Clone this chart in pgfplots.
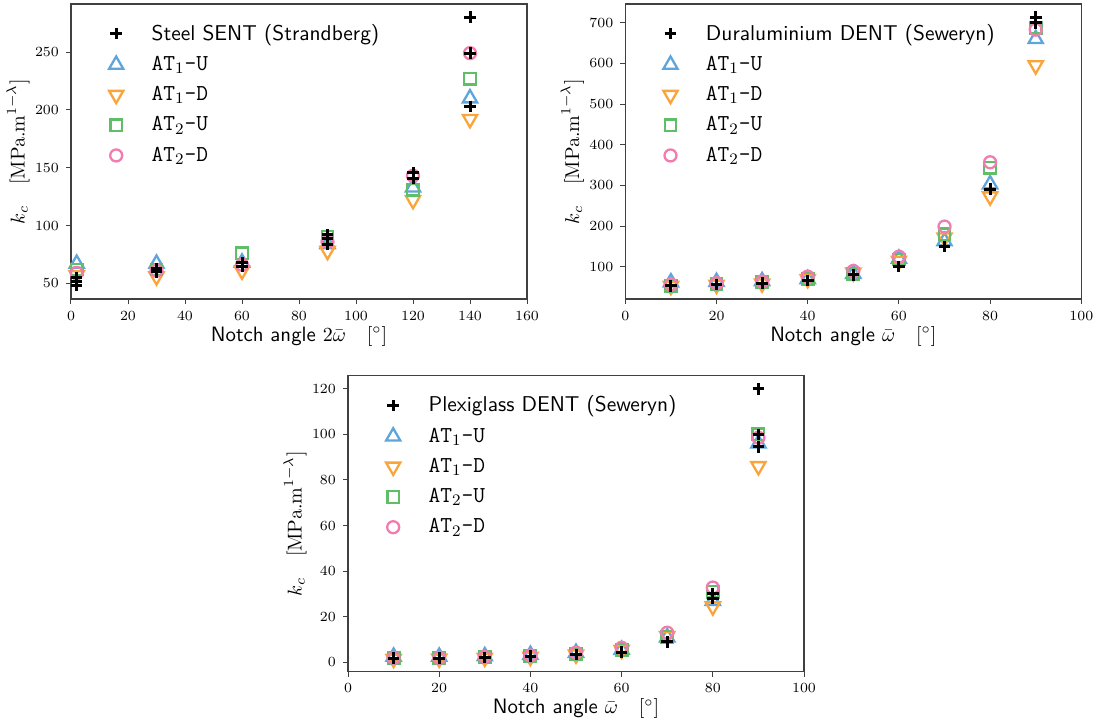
\documentclass[border=0pt]{standalone}
\usepackage{pgfplots}
\pgfplotsset{compat=1.18}
\definecolor{cB}{RGB}{93,165,218}
\definecolor{cO}{RGB}{250,164,58}
\definecolor{cG}{RGB}{96,189,104}
\definecolor{cP}{RGB}{241,124,176}
\newcommand{\sflab}[1]{{\fontsize{10.7}{12}\selectfont\textsf{#1}}}
\newcommand{\ttlab}[3]{{\fontsize{11.4}{12}\selectfont\texttt{#1}$_{#2}$\texttt{-#3}}}
\pgfplotsset{
  pl/.style={only marks, mark=+, mark size=2.9pt, black, line width=1.5pt},
  a1u/.style={only marks, mark=triangle, mark size=4.1pt, cB, line width=1.15pt},
  a1d/.style={only marks, mark=triangle, mark size=4.1pt, mark options={rotate=180}, cO, line width=1.15pt},
  a2u/.style={only marks, mark=square, mark size=2.9pt, cG, line width=1.15pt},
  a2d/.style={only marks, mark=o, mark size=3pt, cP, line width=1.15pt},
  refax/.style={
    scale only axis, width=228pt, height=147.5pt, anchor=south west,
    axis line style={black!75, line width=0.6pt},
    tick align=outside, tick pos=left, major tick length=2.5pt,
    tick style={black!75, line width=0.5pt},
    tick label style={font=\fontsize{7}{8}\selectfont},
    label style={font=\fontsize{10.4}{12}\selectfont},
    ylabel style={at={(axis description cs:-0.075,0.5)}, anchor=south},
    xlabel style={at={(axis description cs:0.5,-0.068)}, anchor=north},
    legend style={at={(axis description cs:0.073,0.947)}, anchor=north west, draw=none, fill=none,
      row sep=2.5pt, inner sep=0pt},
    legend cell align=left,
    legend image code/.code={\draw[##1] plot coordinates {(0pt,0pt)}; \path (-5pt,0pt) (15pt,0pt);},
    ylabel={$k_c \quad [\mathrm{MPa.m}^{1-\lambda}]$},
  },
}
\begin{document}
\begin{tikzpicture}
\useasboundingbox (0,0) rectangle (550.5pt,362pt);
% ---------------- top-left
\begin{axis}[refax, at={(35.5pt,212.5pt)},
  xmin=0, xmax=160, ymin=36.5, ymax=291.5,
  xtick={0,20,...,160}, ytick={50,100,...,250},
  xlabel={\textsf{Notch angle} $2\bar{\omega} \quad [^\circ]$}]
\addlegendimage{pl}\addlegendentry{\sflab{Steel SENT (Strandberg)}}
\addlegendimage{a1u}\addlegendentry{\ttlab{AT}{1}{U}}
\addlegendimage{a1d}\addlegendentry{\ttlab{AT}{1}{D}}
\addlegendimage{a2u}\addlegendentry{\ttlab{AT}{2}{U}}
\addlegendimage{a2d}\addlegendentry{\ttlab{AT}{2}{D}}
\addplot[a1u, forget plot] coordinates {(2,67)(30,67)(60,68)(90,84)(120,133)(140,210)};
\addplot[a1d, forget plot] coordinates {(2,57)(30,56)(60,61)(90,78)(120,122)(140,192)};
\addplot[a2u, forget plot] coordinates {(2,62)(30,62)(60,76)(90,90)(120,131)(140,227)};
\addplot[a2d, forget plot] coordinates {(2,59)(30,61)(60,66)(90,86)(120,143)(140,249)};
\addplot[pl, forget plot] coordinates {(2,48)(2,52)(2,55)(30,60)(30,63)(60,65)(60,68)(90,84)(90,89)(90,92)(120,141)(120,146)(140,280)(140,249)(140,203)};
\end{axis}
% ---------------- top-right
\begin{axis}[refax, at={(312.65pt,212.5pt)},
  xmin=0, xmax=100, ymin=21, ymax=746,
  xtick={0,20,...,100}, ytick={100,200,...,700},
  xlabel={\textsf{Notch angle} $\bar{\omega} \quad [^\circ]$}]
\addlegendimage{pl}\addlegendentry{\sflab{Duraluminium DENT (Seweryn)}}
\addlegendimage{a1u}\addlegendentry{\ttlab{AT}{1}{U}}
\addlegendimage{a1d}\addlegendentry{\ttlab{AT}{1}{D}}
\addlegendimage{a2u}\addlegendentry{\ttlab{AT}{2}{U}}
\addlegendimage{a2d}\addlegendentry{\ttlab{AT}{2}{D}}
\addplot[a1u, forget plot] coordinates {(10,62)(20,63)(30,65)(40,70)(50,83)(60,120)(70,163)(80,303)(90,660)};
\addplot[a1d, forget plot] coordinates {(10,53)(20,56)(30,59)(40,70)(50,86)(60,115)(70,172)(80,273)(90,595)};
\addplot[a2u, forget plot] coordinates {(10,54)(20,58)(30,62)(40,70)(50,82)(60,118)(70,180)(80,344)(90,688)};
\addplot[a2d, forget plot] coordinates {(10,57)(20,60)(30,64)(40,76)(50,90)(60,125)(70,199)(80,357)(90,683)};
\addplot[pl, forget plot] coordinates {(10,53)(20,57)(30,60)(40,66)(50,80)(60,101)(70,150)(80,291)(90,700)(90,714)};
\end{axis}
% ---------------- bottom
\begin{axis}[refax, at={(174pt,26.15pt)}, height=148pt,
  xmin=0, xmax=100, ymin=-4.1, ymax=125.7,
  xtick={0,20,...,100}, ytick={0,20,...,120},
  xlabel={\textsf{Notch angle} $\bar{\omega} \quad [^\circ]$}]
\addlegendimage{pl}\addlegendentry{\sflab{Plexiglass DENT (Seweryn)}}
\addlegendimage{a1u}\addlegendentry{\ttlab{AT}{1}{U}}
\addlegendimage{a1d}\addlegendentry{\ttlab{AT}{1}{D}}
\addlegendimage{a2u}\addlegendentry{\ttlab{AT}{2}{U}}
\addlegendimage{a2d}\addlegendentry{\ttlab{AT}{2}{D}}
\addplot[a1u, forget plot] coordinates {(10,2.5)(20,2.5)(30,2.7)(40,3.3)(50,4.2)(60,5.5)(70,11)(80,27)(90,96)};
\addplot[a1d, forget plot] coordinates {(10,1.5)(20,1.6)(30,2)(40,2.4)(50,3.4)(60,5.5)(70,11.5)(80,24.5)(90,86)};
\addplot[a2u, forget plot] coordinates {(10,1.9)(20,1.9)(30,2.3)(40,2.8)(50,3.8)(60,5.4)(70,11.3)(80,31)(90,100)};
\addplot[a2d, forget plot] coordinates {(10,2)(20,2)(30,2.4)(40,3)(50,4.3)(60,6.4)(70,13)(80,32.8)(90,98.5)};
\addplot[pl, forget plot] coordinates {(10,1.8)(20,1.8)(30,2.2)(40,2.7)(50,3.5)(60,4.5)(70,9)(80,28)(80,30)(90,120)(90,100)(90,94.5)};
\end{axis}
\end{tikzpicture}
\end{document}
